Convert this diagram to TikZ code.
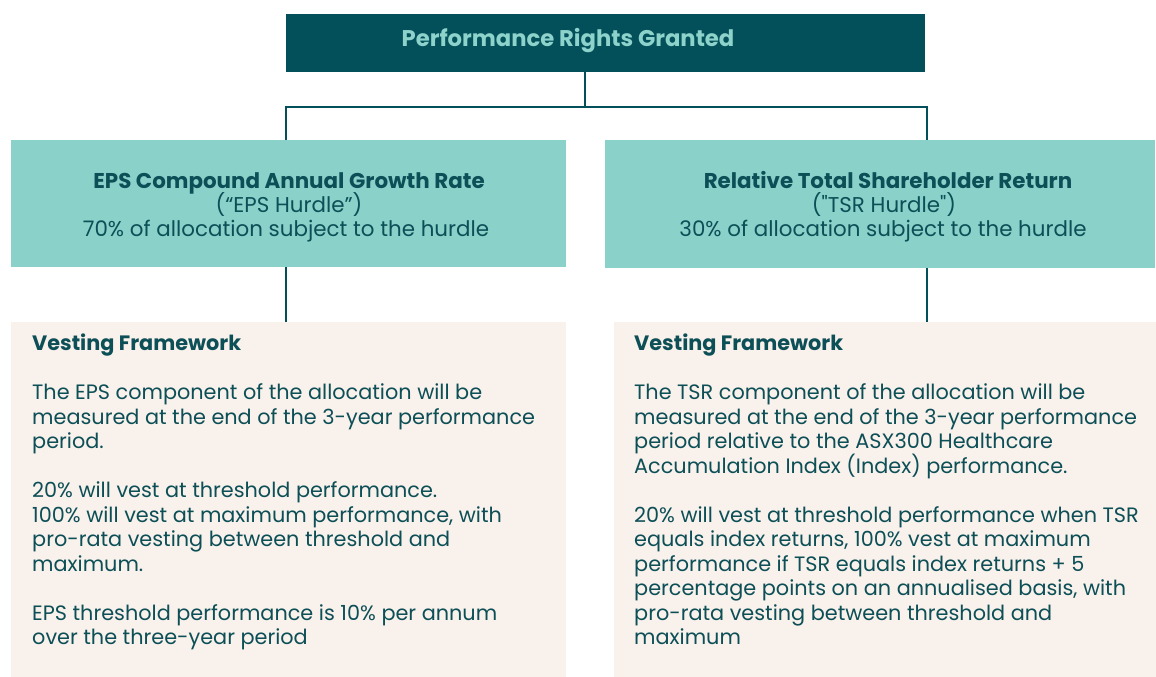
\documentclass[tikz,border=0pt]{standalone}
\usepackage{fontspec}
\setmainfont{Poppins}[Ligatures=TeXOff]
\definecolor{darkteal}{HTML}{03505A}
\definecolor{lightteal}{HTML}{8AD1CA}
\definecolor{titletxt}{HTML}{8DD3CB}
\definecolor{cream}{HTML}{F9F1EB}
\definecolor{inktxt}{HTML}{0D4F57}
\tikzset{
  box/.style={rectangle, draw=none, inner sep=0pt, anchor=center},
  conn/.style={draw=darkteal, line width=2.6pt},
  bodyline/.style={anchor=base west, inner sep=0pt, text=inktxt, font=\fontsize{20.8}{24}\selectfont},
  headline/.style={anchor=base, inner sep=0pt, text=inktxt, font=\fontsize{21.4}{24}\selectfont},
}
\begin{document}
\begin{tikzpicture}[x=1pt,y=-1pt]
\useasboundingbox (0,0) rectangle (1156,677);
% boxes
\node[box, fill=darkteal, minimum width=639pt, minimum height=58pt] (top) at (605.5,43) {};
\node[box, fill=lightteal, minimum width=555pt, minimum height=127pt] (eps) at (288.5,203.5) {};
\node[box, fill=lightteal, minimum width=550pt, minimum height=128pt] (tsr) at (880,204) {};
\node[box, fill=cream, minimum width=555pt, minimum height=355pt] (epsv) at (288.5,499.5) {};
\node[box, fill=cream, minimum width=542pt, minimum height=355pt] (tsrv) at (885,499.5) {};
% junctions
\coordinate (j) at (585,107);
\coordinate (jl) at (286,107);
\coordinate (jr) at (927,107);
\draw[conn] (top.south -| j) -- (j);
\draw[conn] (eps.north -| jl) -- (jl) -- (jr) -- (tsr.north -| jr);
\draw[conn] (eps.south -| jl) -- (epsv.north -| jl);
\draw[conn] (tsr.south -| jr) -- (tsrv.north -| jr);
% title
\node[anchor=base, inner sep=0pt, text=titletxt, font=\fontsize{22.7}{24}\selectfont\bfseries] (ttl) at (568,47) {Performance Rights Granted};
% EPS header
\node[headline, font=\fontsize{21.4}{24}\selectfont\bfseries] (e1) at (289,188) {EPS Compound Annual Growth Rate};
\node[headline] (e2) at (289,212) {(“EPS Hurdle”)};
\node[headline] (e3) at (286,236) {70\% of allocation subject to the hurdle};
% TSR header
\node[headline, font=\fontsize{21.4}{24}\selectfont\bfseries] (t1) at (888,188) {Relative Total Shareholder Return};
\node[headline] (t2) at (884,212) {("TSR Hurdle")};
\node[headline] (t3) at (883,236) {30\% of allocation subject to the hurdle};
% EPS body
\node[bodyline, font=\fontsize{20.8}{24}\selectfont\bfseries] (ev) at (32,350) {Vesting Framework};
\foreach \t/\yy [count=\i] in {
  {The EPS component of the allocation will be}/399.5,
  {measured at the end of the 3-year performance}/424,
  {period.}/448.5,
  {20\% will vest at threshold performance.}/497.5,
  {100\% will vest at maximum performance, with}/522,
  {pro-rata vesting between threshold and}/546.5,
  {maximum.}/571,
  {EPS threshold performance is 10\% per annum}/620,
  {over the three-year period}/644.5}
  \node[bodyline] (el\i) at (32,\yy) {\t};
% TSR body
\node[bodyline, font=\fontsize{20.8}{24}\selectfont\bfseries] (tv) at (634,350) {Vesting Framework};
\foreach \t/\yy [count=\i] in {
  {The TSR component of the allocation will be}/399.5,
  {measured at the end of the 3-year performance}/424,
  {period relative to the ASX300 Healthcare}/448.5,
  {Accumulation Index (Index) performance.}/473,
  {20\% will vest at threshold performance when TSR}/522,
  {equals index returns, 100\% vest at maximum}/546.5,
  {performance if TSR equals index returns + 5}/571,
  {percentage points on an annualised basis, with}/595.5,
  {pro-rata vesting between threshold and}/620,
  {maximum}/644.5}
  \node[bodyline] (tl\i) at (634,\yy) {\t};
\end{tikzpicture}
\end{document}
